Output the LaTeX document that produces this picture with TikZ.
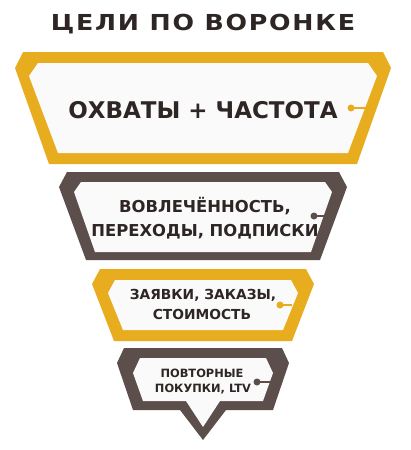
\documentclass[tikz,border=0pt]{standalone}
\usepackage{fontspec}
\setmainfont{DejaVu Sans}
\newfontfamily\titlefont[FakeStretch=1.15,LetterSpace=8]{DejaVu Sans}
\definecolor{gold}{HTML}{E8AD1F}
\definecolor{brn}{HTML}{5B4E4B}
\definecolor{ink}{HTML}{2E2624}
\definecolor{paper}{HTML}{FAFAFA}
\tikzset{
  lbl/.style={anchor=base, inner sep=0pt, text=ink, font=\bfseries},
  dotg/.style={circle, fill=gold, inner sep=0pt, minimum size=7pt},
  dotb/.style={circle, fill=brn, inner sep=0pt, minimum size=7pt},
  wireg/.style={draw=gold, line width=2pt},
  wireb/.style={draw=brn, line width=2pt},
}
\begin{document}
\begin{tikzpicture}[x=1pt,y=-1pt]
\useasboundingbox (0,0) rectangle (410,450);
% title
\node[lbl, font=\titlefont\bfseries\fontsize{22}{26}\selectfont] (title) at (203,30) {ЦЕЛИ ПО ВОРОНКЕ};
% shape 1
\fill[gold] (23,52) -- (383,52) -- (391,68) -- (357,164) -- (49,164) -- (15,68) -- cycle;
\fill[paper] (38,63) -- (368,63) -- (377,76) -- (348,153) -- (58,153) -- (29,76) -- cycle;
% shape 2
\fill[brn] (67,172) -- (339,172) -- (347,187) -- (320,260) -- (86,260) -- (59,187) -- cycle;
\fill[paper] (81,182) -- (325,182) -- (332,192) -- (311,252) -- (95,252) -- (74,192) -- cycle;
% shape 3
\fill[gold] (100,269) -- (306,269) -- (314,284) -- (292,341) -- (114,341) -- (92,284) -- cycle;
\fill[paper] (115,280) -- (291,280) -- (298,293) -- (283,330) -- (123,330) -- (108,293) -- cycle;
% shape 4
\fill[brn] (124,348) -- (282,348) -- (289,363) -- (273,410) -- (226,410) -- (203,440) -- (180,410) -- (133,410) -- (117,363) -- cycle;
\fill[paper] (140,358) -- (266,358) -- (273,373) -- (263,401) -- (220,401) -- (203,427) -- (186,401) -- (143,401) -- (133,373) -- cycle;
% texts
\node[lbl, font=\bfseries\fontsize{23}{26}\selectfont] (t1) at (203,118) {ОХВАТЫ + ЧАСТОТА};
\node[lbl, font=\bfseries\fontsize{16.4}{20}\selectfont] (t2a) at (205,212) {ВОВЛЕЧЁННОСТЬ,};
\node[lbl, font=\bfseries\fontsize{16.4}{20}\selectfont] (t2b) at (205,236) {ПЕРЕХОДЫ, ПОДПИСКИ};
\node[lbl, font=\bfseries\fontsize{13.8}{16}\selectfont] (t3a) at (203,299) {ЗАЯВКИ, ЗАКАЗЫ,};
\node[lbl, font=\bfseries\fontsize{13.8}{16}\selectfont] (t3b) at (202,319) {СТОИМОСТЬ};
\node[lbl, font=\bfseries\fontsize{11.4}{14}\selectfont] (t4a) at (202,377) {ПОВТОРНЫЕ};
\node[lbl, font=\bfseries\fontsize{11.4}{14}\selectfont] (t4b) at (203,392) {ПОКУПКИ, LTV};
% connector dots
\node[dotg] (d1) at (351,108) {};
\coordinate (e1) at (366,108);
\draw[wireg] (d1.center) -- (e1);
\node[dotb] (d2) at (314,216) {};
\coordinate (e2) at (326,216);
\draw[wireb] (d2.center) -- (e2);
\node[dotg] (d3) at (280,305) {};
\coordinate (e3) at (292,305);
\draw[wireg] (d3.center) -- (e3);
\node[dotb] (d4) at (257,382) {};
\coordinate (e4) at (272,382);
\draw[wireb] (d4.center) -- (e4);
\end{tikzpicture}
\end{document}
